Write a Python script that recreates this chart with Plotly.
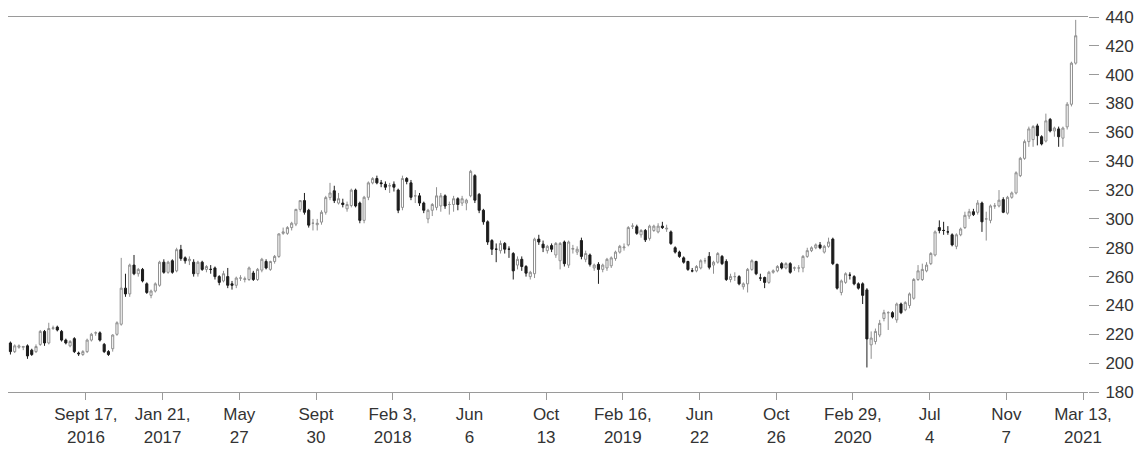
import pandas as pd
import plotly.graph_objects as go

# Weekly candles (week starting Monday)
week_start = "2016-05-16"
n_weeks = 251

opens = [
    214, 208, 211, 211, 212, 209, 208, 213, 222, 214,
    224, 225, 222, 216, 212, 217, 207, 206, 208, 216,
    221, 221, 213, 208, 210, 220, 227, 252, 248, 268,
    262, 265, 255, 247, 250, 254, 270, 263, 271, 264,
    278.7, 273, 271, 270, 262, 270, 265, 265, 266, 260,
    257, 260, 255, 254, 259, 258, 258, 262.5, 258, 264.5,
    270.5, 265, 270.5, 274, 290, 290, 294, 296.4, 306.6, 312.7,
    306, 297, 296, 297.8, 304.6, 314.8, 319.5, 311, 311, 307,
    309.3, 320, 311, 299, 315, 325, 328, 325, 324, 323,
    324, 320, 308, 328, 325, 316, 316, 311, 300, 306,
    308, 309, 316, 310, 310, 314, 311, 311, 316, 330,
    317, 306, 298, 285, 279, 278, 283, 279, 276, 268,
    272, 267, 260, 262, 286, 282.5, 278, 281.5, 275, 271,
    284, 268, 279, 277, 285, 272, 275, 266, 268.5, 265,
    266, 267.5, 272.5, 277, 280, 282, 295, 294.6, 289, 292,
    286.5, 292, 291, 295, 293, 291, 280, 277, 273, 270.5,
    264, 264, 266, 271, 274, 268, 270, 274, 270.5, 258,
    260, 260, 253, 255, 265, 270.5, 259, 259.4, 256, 263,
    264, 269, 266, 269, 266, 266, 266, 274, 278, 280,
    282, 277, 281, 286, 268.5, 249, 256, 261, 260, 255,
    255, 250.8, 212.7, 215, 219.5, 231, 235, 235, 230, 241,
    237, 240, 245, 258, 258, 264, 269, 275, 294, 292,
    291, 289, 281, 289, 294, 302, 305, 304.6, 311, 300,
    299, 309, 309, 313.4, 304, 315, 318, 330, 342, 353.6,
    355, 364.5, 357, 354, 369, 361, 362.4, 356, 363.8, 379.5,
    408,
]

highs = [
    215, 213, 213, 212, 213, 210, 213, 223, 223, 228,
    226, 226, 223, 217, 216, 218, 208, 209, 217, 221,
    222, 222, 214, 209, 220, 229, 273, 262, 269, 275,
    266, 266, 256, 251, 256, 271, 272, 271, 272, 280,
    282, 274, 274, 272, 271, 271, 268, 268, 267, 261,
    264, 266, 257, 260, 261, 260, 267, 264, 266, 273,
    272, 271, 275, 290, 294, 295, 298, 307, 313, 318,
    307, 300, 300, 306, 316, 325, 323, 318, 314, 312,
    321, 321, 312, 316, 326, 329, 330, 327, 326, 325,
    326, 321, 330, 329, 327, 320, 318, 312, 307, 311,
    322, 318, 317, 312, 316, 315, 316, 314, 334, 331,
    318, 307, 299, 286, 283, 285, 284, 281, 277, 274,
    274, 268, 264, 287, 289, 285, 282, 283, 284, 284,
    285, 285, 282, 281, 287, 278, 276, 269, 270, 269,
    273, 274, 278, 282, 283, 295, 297, 296, 293, 293,
    296, 296, 297, 298, 296, 292, 281, 278, 274, 271,
    266, 268, 272, 273, 277, 271, 277, 275, 272, 262,
    263, 261, 256, 266, 272, 271, 262, 260, 264, 265,
    268, 270, 270, 270, 267, 268, 275, 280, 281, 283,
    284, 282, 287, 287, 269, 258, 263, 263, 261, 256,
    256, 252, 222, 224, 230, 237, 236, 236, 242, 242,
    243, 249, 259, 268, 269, 270, 277, 292, 299, 298,
    295, 290, 290, 294, 305, 307, 307, 313, 312, 305,
    310, 311, 320, 315, 316, 319, 333, 343, 355, 364,
    365, 366, 358, 373, 370, 364, 364, 364, 381, 409,
    438,
]

lows = [
    206, 207, 210, 209, 203, 205, 207, 212, 212, 213,
    223, 222, 215, 213, 211, 207, 205, 205, 207, 215,
    219, 215, 207, 205, 208, 219, 226, 246, 246, 261,
    260, 256, 248, 245, 249, 253, 262, 262, 262, 263,
    271, 269, 268, 260, 260, 264, 263, 262, 258, 254,
    256, 252, 251, 252, 257, 256, 257, 257, 257, 263,
    265, 264, 269, 273, 289, 289, 292, 295, 305, 303,
    294, 292, 292, 296, 303, 313, 311, 310, 308, 305,
    308, 308, 297, 297, 313, 324, 324, 322, 320, 318,
    319, 304, 306, 324, 313, 311, 309, 304, 297, 302,
    306, 305, 307, 303, 305, 306, 309, 306, 315, 311,
    304, 296, 282, 275, 270, 276, 276, 273, 258, 265,
    264, 260, 258, 259, 282, 277, 276, 277, 273, 265,
    267, 266, 276, 275, 272, 270, 267, 264, 255, 263,
    264, 266, 271, 276, 278, 281, 293, 289, 287, 284,
    285, 291, 290, 293, 291, 282, 276, 273, 269, 264,
    263, 263, 265, 269, 265, 262, 269, 268, 257, 256,
    257, 254, 251, 249, 264, 261, 257, 252, 255, 262,
    263, 265, 265, 262, 264, 263, 263, 273, 277, 279,
    279, 276, 280, 268, 251, 247, 255, 258, 254, 251,
    241, 197, 203, 213, 218, 229, 223, 231, 228, 234,
    236, 238, 244, 257, 257, 263, 268, 274, 290, 289,
    289, 281, 279, 288, 293, 300, 302, 303, 291, 285,
    297, 307, 308, 304, 303, 314, 317, 329, 341, 350,
    350, 351, 351, 353, 360, 357, 350, 350, 362, 378,
    407,
]

closes = [
    208, 212, 212, 211.5, 205, 206, 211.5, 222, 214, 224,
    224.5, 223, 216, 214, 215, 208, 206.5, 208, 216, 220,
    221, 216, 208, 206, 219.5, 228, 252, 248, 268, 262,
    265, 257, 249, 250, 255, 270, 263, 270, 263, 278.7,
    272.6, 271, 272, 262, 270, 265, 267, 265, 260, 256,
    262, 254, 254, 259, 259, 258.5, 266, 258, 265, 272,
    266, 270.5, 274, 289.6, 291, 294, 297, 306.6, 312.7, 304.6,
    295.7, 297, 297, 304.6, 314.8, 318, 312.7, 314, 310, 310,
    320, 309, 299, 315, 325, 328, 325, 324.5, 322, 323,
    322, 306, 328, 326, 315, 316, 311, 306, 306, 310,
    316, 316, 309, 310, 314, 310, 314, 313, 333, 313,
    306, 298, 284, 279, 279, 283, 279, 279, 264, 272,
    267, 262.4, 263, 286, 284, 280, 281, 279, 283, 283,
    269, 284, 279.5, 279, 274, 276, 268.5, 268, 265, 268,
    272, 273, 277, 281, 280.5, 294, 295, 290, 292, 285.5,
    295, 295, 295, 294, 293.5, 283, 277, 274, 270, 265,
    264, 267, 271, 271, 266.5, 270, 276, 269, 258, 260,
    260, 255, 255, 265, 271, 262, 259, 256, 263, 264,
    267, 266, 269, 263, 266, 266, 274, 278, 280, 282,
    280, 281, 284, 269, 252, 257, 262, 261, 255, 252,
    247, 216.8, 217.4, 222, 227.6, 235, 235, 232, 241, 235,
    242, 248, 258, 264, 265, 268, 276, 291, 292, 292,
    291, 282, 289, 293, 302.5, 305, 303, 311, 298, 300,
    309, 309, 313, 304.6, 315, 318, 332, 342, 353.6, 362.4,
    364, 357.7, 352, 368, 361, 363, 357, 363, 379.5, 408,
    427,
]

tick_dates = ["2016-09-17", "2017-01-21", "2017-05-27", "2017-09-30",
              "2018-02-03", "2018-06-09", "2018-10-13", "2019-02-16",
              "2019-06-22", "2019-10-26", "2020-02-29", "2020-07-04",
              "2020-11-07", "2021-03-13"]
tick_labels = ["Sept 17,<br>2016", "Jan 21,<br>2017", "May<br>27", "Sept<br>30",
               "Feb 3,<br>2018", "Jun<br>6", "Oct<br>13", "Feb 16,<br>2019",
               "Jun<br>22", "Oct<br>26", "Feb 29,<br>2020", "Jul<br>4",
               "Nov<br>7", "Mar 13,<br>2021"]
y_ticks = [180, 200, 220, 240, 260, 280, 300, 320, 340, 360, 380, 400, 420, 440]

for name, arr in [("opens", opens), ("highs", highs), ("lows", lows), ("closes", closes)]:
    if len(arr) != n_weeks:
        raise ValueError(f"{name} has {len(arr)} values")

dates = pd.date_range(week_start, periods=n_weeks, freq="7D")

fig = go.Figure(go.Candlestick(
    x=dates, open=opens, high=highs, low=lows, close=closes,
    increasing=dict(line=dict(color="#8f8f8f", width=1), fillcolor="#ffffff"),
    decreasing=dict(line=dict(color="#1c1c1c", width=1), fillcolor="#1c1c1c"),
    whiskerwidth=0, hoverinfo="skip", showlegend=False,
))

fig.update_layout(
    width=1145, height=455,
    margin=dict(l=8, r=57, t=11, b=62),
    paper_bgcolor="white", plot_bgcolor="white",
    font=dict(family="Liberation Sans, Arial, sans-serif", size=17, color="#333333"),
    showlegend=False,
)
fig.update_xaxes(
    type="date", range=["2016-05-12", "2021-03-21 05:00"],
    tickvals=tick_dates, ticktext=tick_labels,
    ticks="outside", ticklen=7, tickcolor="#9a9a9a", tickwidth=1,
    showline=True, linecolor="#9a9a9a", linewidth=1, mirror=True,
    showgrid=False, zeroline=False, rangeslider=dict(visible=False),
)
fig.update_yaxes(
    side="right", range=[180, 440], tickvals=y_ticks,
    ticks="outside", ticklen=10, tickcolor="#9a9a9a", tickwidth=1,
    showline=False, showgrid=False, zeroline=False, ticklabelstandoff=3,
)

fig.write_html(
    "out.html",
    config={"displayModeBar": False},
    post_script="document.body.style.margin='0';document.body.style.overflow='hidden';",
)
